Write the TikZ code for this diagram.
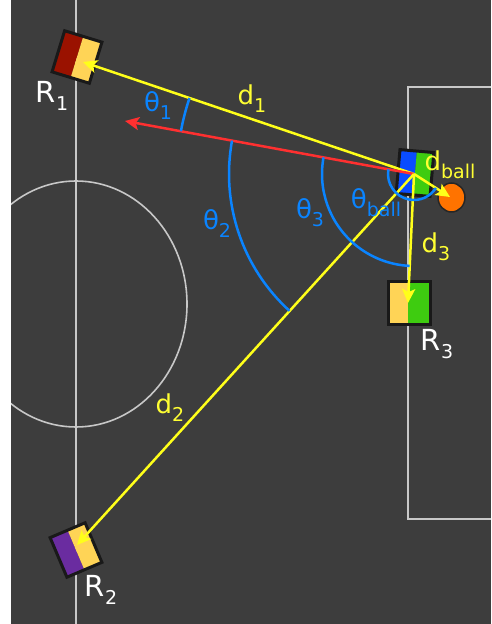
\documentclass[tikz,border=0pt]{standalone}
\usepackage{fontspec}
\setmainfont{DejaVu Sans}
\usetikzlibrary{arrows.meta}
\definecolor{fieldbg}{HTML}{3D3D3D}
\definecolor{fieldgrey}{HTML}{C8C8C8}
\definecolor{rayyellow}{HTML}{FFFF1A}
\definecolor{textyellow}{HTML}{FFFF33}
\definecolor{arcblue}{HTML}{0A84FF}
\definecolor{rayred}{HTML}{FF3030}
\definecolor{robred}{HTML}{9A1200}
\definecolor{robyellow}{HTML}{FFD456}
\definecolor{robpurple}{HTML}{6A2CA0}
\definecolor{robblue}{HTML}{0A4CFF}
\definecolor{robgreen}{HTML}{3ECC10}
\definecolor{ballorange}{HTML}{FF7300}
\newcommand\lbsub[1]{\raisebox{-8pt}{\fontsize{19}{19}\selectfont #1}}
\begin{document}
\begin{tikzpicture}[x=1pt,y=1pt,
  fieldline/.style={draw=fieldgrey, line width=1.6pt},
  ray/.style={draw=rayyellow, line width=2.5pt, -{Stealth[length=14pt,width=13pt,inset=3pt]}},
  redray/.style={draw=rayred, line width=2.5pt, -{Stealth[length=14pt,width=13pt,inset=3pt]}},
  anglearc/.style={draw=arcblue, line width=2.5pt},
  robedge/.style={draw=black!90, line width=3pt, line join=miter},
  ylab/.style={text=textyellow, font=\fontsize{26}{26}\selectfont, inner sep=0pt},
  blab/.style={text=arcblue, font=\fontsize{26}{26}\selectfont, inner sep=0pt},
  rlab/.style={text=white, font=\fontsize{29}{29}\selectfont, inner sep=0pt}
]
\useasboundingbox (0,0) rectangle (491,624);
\fill[white] (0,0) rectangle (491,624);
\fill[fieldbg] (11,0) rectangle (491,624);
% field markings
\begin{scope}
\clip (11,0) rectangle (491,624);
\draw[fieldline] (76,0) -- (76,624);
\draw[fieldline] (76,320) ellipse [x radius=111, y radius=123];
\draw[fieldline] (493,537) -- (408,537) -- (408,105) -- (493,105);
\end{scope}
% robots
\begin{scope}[shift={(77,567)}, rotate=-17]
 \fill[robred] (-19.5,-21.5) rectangle (0,21.5);
 \fill[robyellow] (0,-21.5) rectangle (19.5,21.5);
 \draw[robedge] (-19.5,-21.5) rectangle (19.5,21.5);
\end{scope}
\begin{scope}[shift={(76,74)}, rotate=23]
 \fill[robpurple] (-19,-21.5) rectangle (0,21.5);
 \fill[robyellow] (0,-21.5) rectangle (19,21.5);
 \draw[robedge] (-19,-21.5) rectangle (19,21.5);
\end{scope}
\begin{scope}[shift={(409,320.5)}]
 \fill[robyellow] (-21,-21.5) rectangle (-1,21.5);
 \fill[robgreen] (-1,-21.5) rectangle (21,21.5);
 \draw[robedge] (-21,-21.5) rectangle (21,21.5);
\end{scope}
\begin{scope}[shift={(415,451)}, rotate=-5]
 \fill[robblue] (-17,-22) rectangle (0,22);
 \fill[robgreen] (0,-22) rectangle (17,22);
 \draw[robedge] (-17,-22) rectangle (17,22);
\end{scope}
\fill[ballorange, draw=black!85, line width=1.5pt] (451.5,426.5) ellipse [x radius=13.5, y radius=14.5];
% coordinates
\coordinate (O) at (414,450);
\coordinate (t1) at (83,562);
\coordinate (tr) at (125,503);
\coordinate (t2) at (77,79);
\coordinate (t3) at (408,321);
\coordinate (tb) at (450,427);
% rays
\draw[ray] (O) -- (t1);
\draw[redray] (O) -- (tr);
\draw[ray] (O) -- (t2);
\draw[ray] (O) -- (t3);
\draw[ray] (O) -- (tb);
% angle arcs
\draw[anglearc] ([shift={(161.3:237)}]O) arc[start angle=161.3, end angle=169.6, radius=237];
\draw[anglearc] ([shift={(169.6:185)}]O) arc[start angle=169.6, end angle=227.7, radius=185];
\draw[anglearc] ([shift={(169.6:92)}]O) arc[start angle=169.6, end angle=267.3, radius=92];
\draw[anglearc] ([shift={(169.6:26)}]O) arc[start angle=169.6, end angle=327.4, radius=26];
% labels
\node[blab] (lt1) at (158,518) {θ\lbsub{1}};
\node[ylab] (ld1) at (252,525) {d\lbsub{1}};
\node[blab] (lt2) at (217,400) {θ\lbsub{2}};
\node[blab] (lt3) at (310,411) {θ\lbsub{3}};
\node[blab] (ltb) at (376,421) {θ\lbsub{ball}};
\node[ylab] (ldb) at (450,459) {d\lbsub{ball}};
\node[ylab] (ld3) at (436,377) {d\lbsub{3}};
\node[ylab] (ld2) at (170,216) {d\lbsub{2}};
\node[rlab] (lr1) at (52,528) {R\lbsub{1}};
\node[rlab] (lr2) at (101,34) {R\lbsub{2}};
\node[rlab] (lr3) at (437,280) {R\lbsub{3}};
\end{tikzpicture}
\end{document}
